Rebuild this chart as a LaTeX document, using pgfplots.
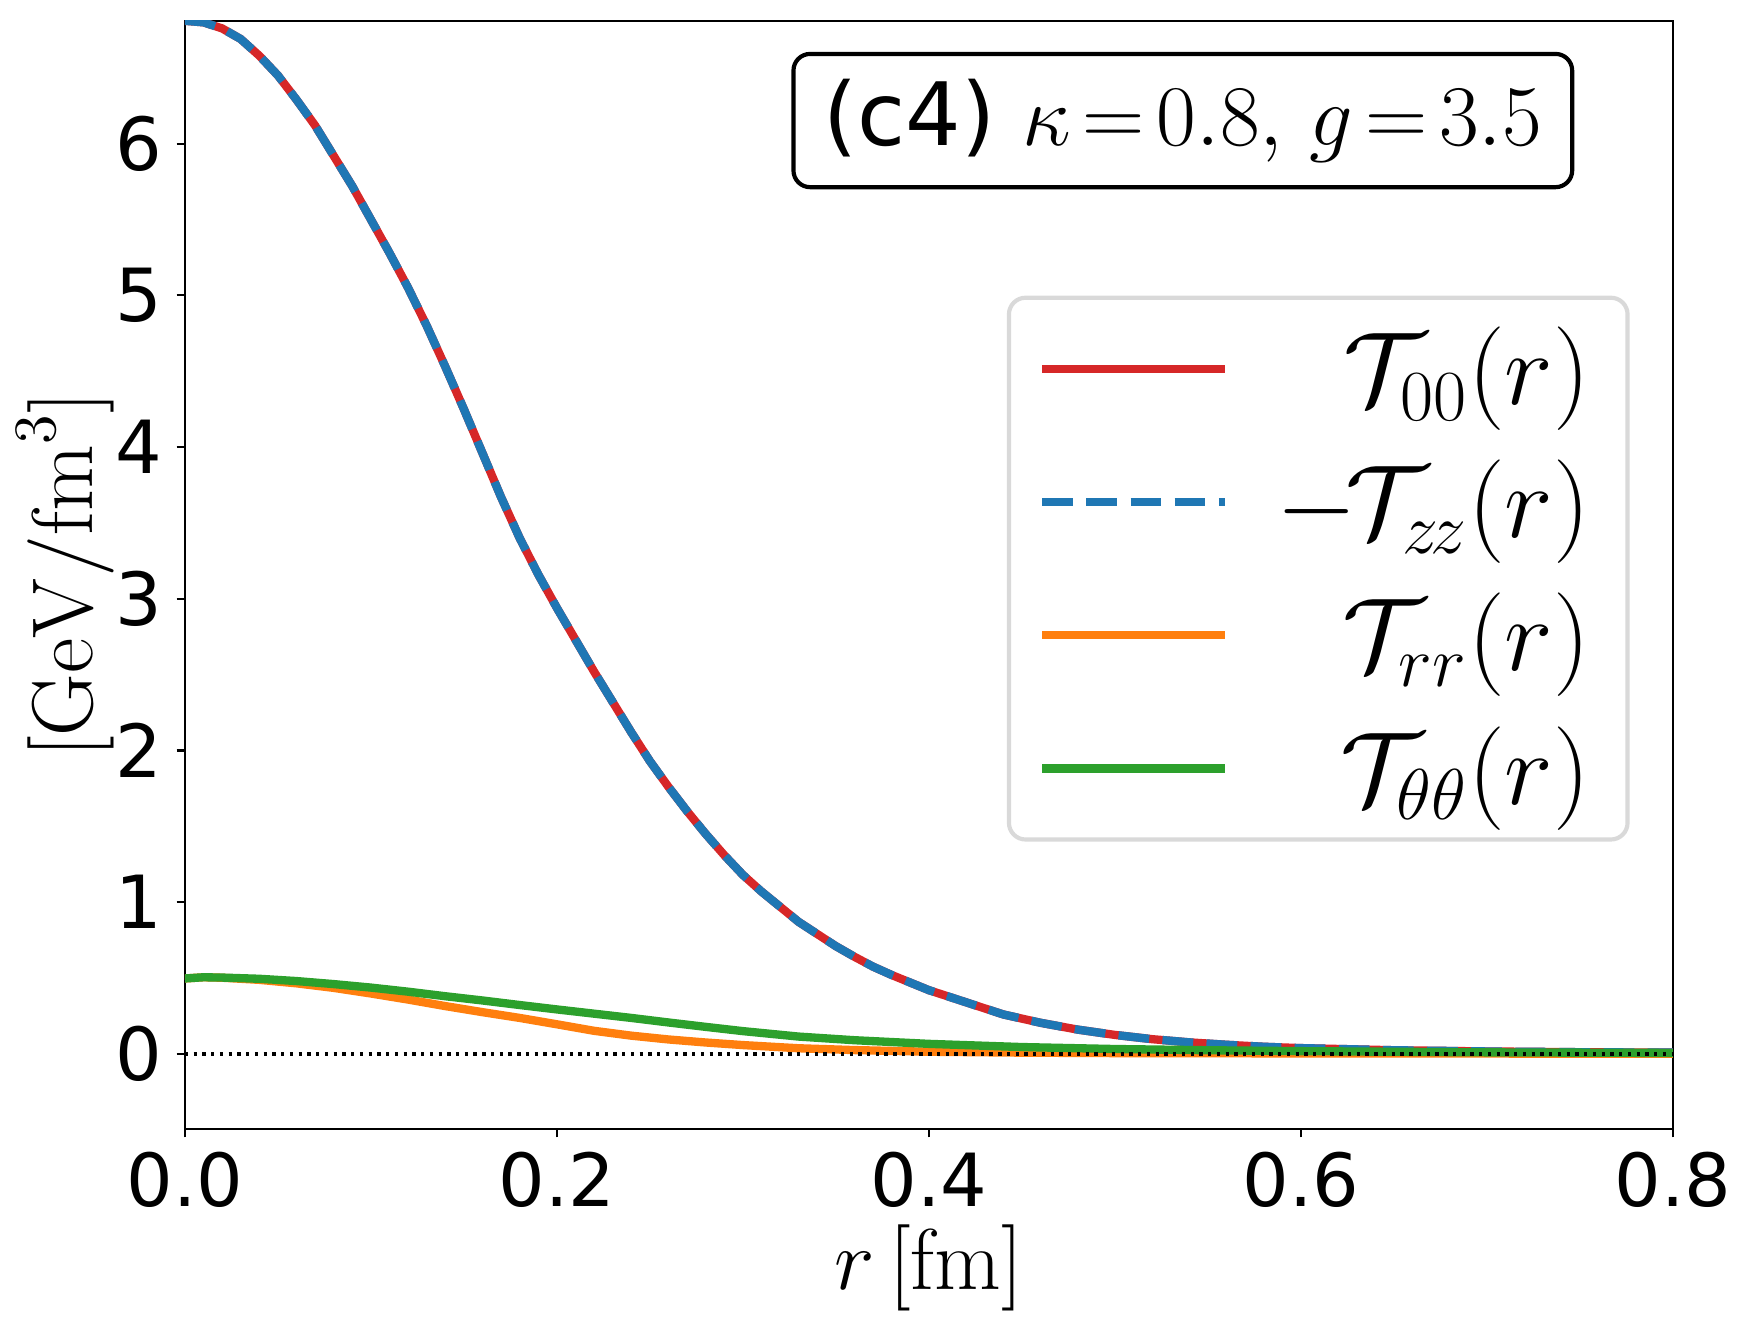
\documentclass[border=0pt]{standalone}
\usepackage[no-math]{fontspec}
\usepackage{pgfplots}
\pgfplotsset{compat=1.18}
\usetikzlibrary{calc}
\newfontfamily\dejavu{DejaVu Sans}
\definecolor{tred}{HTML}{D62728}
\definecolor{tblue}{HTML}{1F77B4}
\definecolor{torange}{HTML}{FF7F0E}
\definecolor{tgreen}{HTML}{2CA02C}
\begin{document}
\begin{tikzpicture}
\begin{axis}[
  name=ax,
  scale only axis,
  width=357.3pt, height=266.1pt,
  xmin=0, xmax=0.8, ymin=-0.495, ymax=6.81,
  xtick={0,0.2,0.4,0.6,0.8},
  ytick={0,1,2,3,4,5,6},
  tick pos=left,
  tick align=outside,
  major tick length=2pt,
  every tick/.style={black, line width=0.5pt},
  axis line style={black, line width=0.5pt},
  /pgf/number format/assume math mode=true,
  xticklabel style={font=\dejavu\fontsize{17.6}{21}\selectfont, /pgf/number format/.cd, fixed, fixed zerofill, precision=1},
  yticklabel style={font=\dejavu\fontsize{17.6}{21}\selectfont},
  xlabel={$r\,[\mathrm{fm}]$},
  ylabel={$[\mathrm{GeV}/\mathrm{fm}^3]$},
  xlabel style={font=\fontsize{21}{25}\selectfont, at={(axis description cs:0.5,-0.1255)}, anchor=center},
  ylabel style={font=\fontsize{21.6}{26}\selectfont, at={(axis description cs:-0.080,0.5)}, anchor=center},
  legend cell align=right,
  legend image code/.code={\draw[#1] (0pt,0pt) -- (44pt,0pt);},
  legend style={at={(rel axis cs:0.971,0.752)}, anchor=north east,
    draw=black!15, line width=1pt, rounded corners=4pt, fill=white,
    font=\fontsize{24}{28}\selectfont, row sep=7.85pt, column sep=9.3pt,
    inner xsep=7pt, inner ysep=5pt,
    row 4/.style={nodes={text depth=10.5pt}}},
]
\addplot[tred, line width=2pt] coordinates {
(0.00,6.81)(0.01,6.80)(0.02,6.76)(0.03,6.69)(0.04,6.58)(0.05,6.45)(0.06,6.29)(0.07,6.12)(0.08,5.92)(0.09,5.72)
(0.10,5.50)(0.11,5.28)(0.12,5.05)(0.13,4.80)(0.14,4.53)(0.15,4.25)(0.16,3.96)(0.17,3.67)(0.18,3.40)(0.19,3.16)
(0.20,2.94)(0.21,2.73)(0.22,2.52)(0.23,2.32)(0.24,2.12)(0.25,1.93)(0.26,1.76)(0.27,1.60)(0.28,1.45)(0.29,1.31)
(0.30,1.18)(0.31,1.07)(0.32,0.97)(0.33,0.87)(0.34,0.79)(0.35,0.71)(0.36,0.64)(0.37,0.575)(0.38,0.52)(0.39,0.47)
(0.40,0.42)(0.42,0.34)(0.44,0.26)(0.46,0.205)(0.48,0.16)(0.50,0.125)(0.52,0.097)(0.54,0.076)(0.56,0.060)(0.58,0.047)
(0.60,0.038)(0.65,0.024)(0.70,0.016)(0.75,0.011)(0.80,0.008)};
\addlegendentry{$\mathcal{T}_{00}(r)$}
\addplot[tblue, line width=2pt, dash pattern=on 7.4pt off 3.2pt] coordinates {
(0.00,6.81)(0.01,6.80)(0.02,6.76)(0.03,6.69)(0.04,6.58)(0.05,6.45)(0.06,6.29)(0.07,6.12)(0.08,5.92)(0.09,5.72)
(0.10,5.50)(0.11,5.28)(0.12,5.05)(0.13,4.80)(0.14,4.53)(0.15,4.25)(0.16,3.96)(0.17,3.67)(0.18,3.40)(0.19,3.16)
(0.20,2.94)(0.21,2.73)(0.22,2.52)(0.23,2.32)(0.24,2.12)(0.25,1.93)(0.26,1.76)(0.27,1.60)(0.28,1.45)(0.29,1.31)
(0.30,1.18)(0.31,1.07)(0.32,0.97)(0.33,0.87)(0.34,0.79)(0.35,0.71)(0.36,0.64)(0.37,0.575)(0.38,0.52)(0.39,0.47)
(0.40,0.42)(0.42,0.34)(0.44,0.26)(0.46,0.205)(0.48,0.16)(0.50,0.125)(0.52,0.097)(0.54,0.076)(0.56,0.060)(0.58,0.047)
(0.60,0.038)(0.65,0.024)(0.70,0.016)(0.75,0.011)(0.80,0.008)};
\addlegendentry{$-\mkern-2mu\mathcal{T}_{z\mkern-2mu z}(r)$}
\addplot[torange, line width=2pt] coordinates {
(0.00,0.497)(0.01,0.505)(0.02,0.502)(0.04,0.488)(0.06,0.465)(0.08,0.435)(0.10,0.398)(0.12,0.358)(0.14,0.315)
(0.16,0.275)(0.18,0.237)(0.20,0.195)(0.22,0.152)(0.24,0.120)(0.26,0.095)(0.28,0.075)(0.30,0.058)(0.33,0.037)
(0.36,0.025)(0.40,0.014)(0.45,0.008)(0.50,0.005)(0.60,0.003)(0.80,0.001)};
\addlegendentry{$\mathcal{T}_{rr}(r)$}
\addplot[tgreen, line width=2pt] coordinates {
(0.00,0.497)(0.01,0.505)(0.02,0.503)(0.04,0.495)(0.06,0.480)(0.08,0.460)(0.10,0.437)(0.12,0.410)(0.14,0.380)
(0.16,0.352)(0.18,0.322)(0.20,0.293)(0.22,0.265)(0.24,0.237)(0.26,0.207)(0.28,0.178)(0.30,0.150)(0.33,0.114)
(0.36,0.090)(0.40,0.066)(0.45,0.045)(0.50,0.032)(0.55,0.024)(0.60,0.018)(0.70,0.010)(0.80,0.006)};
\addlegendentry{$\mathcal{T}_{\theta\theta}(r)$}
\addplot[black, line width=0.8pt, dash pattern=on 0.8pt off 1.3pt, forget plot] coordinates {(0,0)(0.8,0)};
\node[draw=black, line width=1pt, rounded corners=4pt, fill=white, minimum width=187pt, minimum height=32pt, inner sep=0pt, font=\fontsize{21}{25}\selectfont]
  at (rel axis cs:0.6707,0.910) {{\dejavu(c4)} $\thickmuskip=2.5mu \kappa=0.8,\; g=3.5$};
\end{axis}
\pgfresetboundingbox
\path[use as bounding box] ($(ax.south west)+(-44.4pt,-48.75pt)$) rectangle ($(ax.north east)+(18.3pt,5pt)$);
\end{tikzpicture}
\end{document}
